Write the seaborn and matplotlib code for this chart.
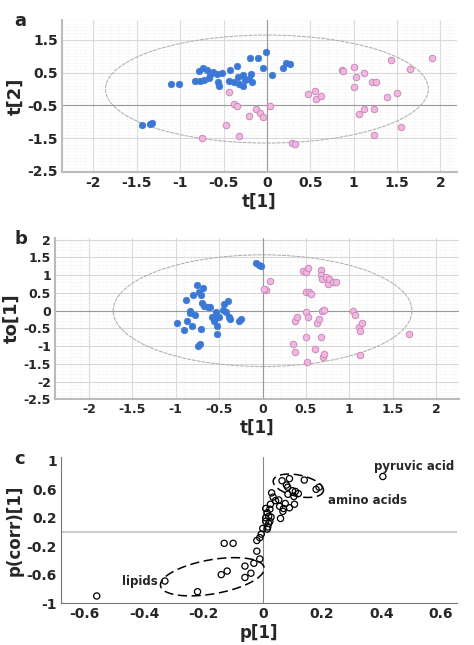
import numpy as np
import pandas as pd
import matplotlib
matplotlib.use("Agg")
import matplotlib.pyplot as plt
import seaborn as sns
from matplotlib.patches import Ellipse
from matplotlib.ticker import MultipleLocator

# panel a: scores t[1] / t[2]
a_blue_x = [-1.10, -1.01, -0.83, -0.78, -0.74, -0.69, -0.72, -0.67, -0.62, -0.58, -0.56, -0.55, -0.52, -0.42,
            -0.44, -0.38, -0.34, -0.33, -0.32, -0.27, -0.28, -0.20, -0.21, -0.17, -0.10, -0.04, -0.01, 0.06,
            0.19, 0.22, 0.27, -1.44, -1.35, -1.32, -0.77, -0.65, -0.25, -0.18]
a_blue_y = [0.17, 0.14, 0.26, 0.56, 0.63, 0.58, 0.28, 0.33, 0.53, 0.46, 0.22, 0.10, 0.50, 0.58,
            0.26, 0.22, 0.70, 0.36, 0.15, 0.43, 0.09, 0.94, 0.30, 0.22, 0.94, 0.63, 1.14, 0.43,
            0.63, 0.79, 0.76, -1.10, -1.07, -1.03, 0.26, 0.43, 0.28, 0.46]
a_pink_x = [-0.44, -0.38, -0.34, -0.75, -0.32, -0.47, -0.21, -0.12, -0.08, -0.05, 0.04, 0.29, 0.32, 0.47,
            0.56, 0.57, 0.62, 0.87, 0.88, 1.00, 1.03, 1.12, 1.00, 1.21, 1.26, 1.06, 1.12, 1.23, 1.23,
            1.38, 1.43, 1.50, 1.54, 1.65, 1.90]
a_pink_y = [-0.10, -0.47, -0.52, -1.48, -1.44, -1.10, -0.83, -0.62, -0.72, -0.85, -0.52, -1.66, -1.69, -0.15,
            -0.05, -0.29, -0.21, 0.58, 0.55, 0.66, 0.38, 0.50, 0.05, 0.22, 0.22, -0.77, -0.62, -0.60, -1.39,
            -0.23, 0.89, -0.11, -1.15, 0.60, 0.96]

# panel b: t[1] / to[1]
b_blue_x = [-0.98, -0.91, -0.88, -0.87, -0.84, -0.83, -0.81, -0.80, -0.78, -0.76, -0.73, -0.71, -0.70, -0.71,
            -0.69, -0.67, -0.63, -0.60, -0.58, -0.56, -0.54, -0.52, -0.55, -0.50, -0.53, -0.44, -0.45, -0.42,
            -0.40, -0.39, -0.38, -0.27, -0.25, -0.74, -0.72, -0.07, -0.04, -0.02]
b_blue_y = [-0.36, -0.54, 0.30, -0.28, 0.00, -0.08, -0.42, 0.45, -0.11, 0.71, 0.52, 0.45, 0.21, -0.52,
            0.64, 0.14, 0.11, 0.11, -0.17, -0.28, -0.05, -0.42, -0.24, -0.19, -0.66, 0.19, 0.02, -0.05,
            0.28, -0.17, -0.24, -0.28, -0.24, -0.99, -0.95, 1.34, 1.28, 1.25]
b_pink_x = [0.04, 0.08, 0.02, 0.37, 0.40, 0.35, 0.37, 0.46, 0.50, 0.52, 0.50, 0.54, 0.56, 0.50, 0.52, 0.50,
            0.51, 0.60, 0.63, 0.65, 0.67, 0.67, 0.68, 0.73, 0.75, 0.77, 0.81, 0.85, 0.68, 0.71, 0.67, 0.70,
            0.71, 1.04, 1.06, 1.11, 1.12, 1.15, 1.12, 1.69]
b_pink_y = [0.57, 0.85, 0.62, -0.28, -0.19, -0.94, -1.18, 1.13, 1.08, 1.21, 0.54, 0.52, 0.47, -0.05, -0.19,
            -0.74, -1.46, -1.08, -0.36, -0.24, 1.15, 1.01, 0.90, 0.94, 0.75, 0.90, 0.80, 0.82, 0.00, 0.02,
            -0.74, -1.32, -1.23, -0.02, -0.11, -0.45, -0.57, -0.36, -1.25, -0.66]

# panel c: loadings p[1] / p(corr)[1]
c_x = [-0.56, -0.33, -0.22, -0.14, -0.12, -0.13, -0.10, -0.06, -0.06, -0.04, -0.03, -0.01, -0.02, -0.02,
       -0.01, -0.005, 0.0, 0.01, 0.01, 0.015, 0.01, 0.02, 0.024, 0.017, 0.02, 0.028, 0.015, 0.024, 0.03,
       0.035, 0.026, 0.043, 0.054, 0.06, 0.057, 0.07, 0.068, 0.076, 0.085, 0.065, 0.08, 0.09, 0.084, 0.10,
       0.105, 0.107, 0.09, 0.11, 0.12, 0.14, 0.18, 0.19, 0.405]
c_y = [-0.90, -0.69, -0.84, -0.60, -0.55, -0.16, -0.16, -0.64, -0.48, -0.58, -0.44, -0.38, -0.27, -0.12,
       -0.08, -0.03, 0.05, 0.15, 0.20, 0.27, 0.33, 0.22, 0.15, 0.07, 0.12, 0.21, 0.04, 0.32, 0.55,
       0.49, 0.39, 0.44, 0.45, 0.19, 0.36, 0.33, 0.29, 0.40, 0.53, 0.72, 0.66, 0.75, 0.63, 0.58,
       0.50, 0.39, 0.34, 0.57, 0.54, 0.73, 0.60, 0.63, 0.78]

blue = "#3b78d6"
pink = "#f2b6e2"
pink_edge = "#c98ab8"

sns.set_style("white")
plt.rcParams['font.family'] = ['DejaVu Sans']
plt.rcParams['font.weight'] = 'bold'

fig = plt.figure(figsize=(4.74, 6.45), dpi=100)
ax_a = fig.add_axes([0.131, 0.733, 0.833, 0.236])
ax_b = fig.add_axes([0.116, 0.381, 0.852, 0.250])
ax_c = fig.add_axes([0.129, 0.065, 0.835, 0.226])


def score_panel(ax, bx, by, px, py, xlim, ylim, yticks, hline, ell_w, ell_h, ylabel):
    ax.set_xlim(*xlim)
    ax.set_ylim(*ylim)
    ax.xaxis.set_minor_locator(MultipleLocator(0.1))
    ax.yaxis.set_minor_locator(MultipleLocator(0.1))
    ax.grid(which='major', color='#d8d8d8', lw=0.8)
    ax.grid(which='minor', color='#f6f6f6', lw=0.4)
    ax.set_axisbelow(True)
    ax.axhline(hline, color='#999999', lw=0.8)
    ax.axvline(0, color='#999999', lw=0.8)
    ax.add_patch(Ellipse((0, 0), ell_w, ell_h, fill=False, ls=(0, (4, 1)), lw=0.7, color='#aaaaaa'))
    sns.scatterplot(x=bx, y=by, ax=ax, color=blue, edgecolor=blue, s=22, linewidth=0.5, zorder=3)
    sns.scatterplot(x=px, y=py, ax=ax, color=pink, edgecolor=pink_edge, s=22, linewidth=0.7, zorder=3)
    ax.set_xticks([-2, -1.5, -1, -0.5, 0, 0.5, 1, 1.5, 2])
    ax.set_xticklabels(['-2', '-1.5', '-1', '-0.5', '0', '0.5', '1', '1.5', '2'])
    ax.set_yticks(yticks)
    ax.set_yticklabels([('%g' % v) for v in yticks])
    ax.tick_params(labelsize=10, length=0, pad=3)
    for s in ['top', 'right']:
        ax.spines[s].set_visible(False)
    for s in ['left', 'bottom']:
        ax.spines[s].set_color('#bbbbbb')
        ax.spines[s].set_linewidth(1.5)
    ax.set_xlabel('t[1]', fontsize=12, fontweight='bold', labelpad=2)
    ax.set_ylabel(ylabel, fontsize=13, fontweight='bold', labelpad=2)


score_panel(ax_a, a_blue_x, a_blue_y, a_pink_x, a_pink_y, (-2.36, 2.19), (-2.54, 2.11),
            [1.5, 0.5, -0.5, -1.5, -2.5], -0.5, 3.72, 3.3, 't[2]')
score_panel(ax_b, b_blue_x, b_blue_y, b_pink_x, b_pink_y, (-2.39, 2.26), (-2.5, 2.05),
            [2, 1.5, 1, 0.5, 0, -0.5, -1, -1.5, -2, -2.5], 0, 3.44, 3.15, 'to[1]')
ax_b.tick_params(labelsize=9)

# panel c
ax_c.set_xlim(-0.68, 0.655)
ax_c.set_ylim(-1.0, 1.05)
ax_c.axhline(0, color='#cccccc', lw=1.5)
ax_c.axvline(0, color='#888888', lw=0.8)
sns.scatterplot(x=c_x, y=c_y, ax=ax_c, facecolor='none', edgecolor='black', s=20, linewidth=0.9, zorder=3)
ax_c.set_xticks([-0.6, -0.4, -0.2, 0, 0.2, 0.4, 0.6])
ax_c.set_xticklabels(['-0.6', '-0.4', '-0.2', '0', '0.2', '0.4', '0.6'])
ax_c.set_yticks([1, 0.6, 0.2, -0.2, -0.6, -1])
ax_c.set_yticklabels(['1', '0.6', '0.2', '-0.2', '-0.6', '-1'])
ax_c.tick_params(labelsize=10, length=0, pad=3)
for s in ['top', 'right']:
    ax_c.spines[s].set_visible(False)
for s in ['left', 'bottom']:
    ax_c.spines[s].set_color('#777777')
ax_c.set_xlabel('p[1]', fontsize=12, fontweight='bold', labelpad=2)
ax_c.set_ylabel('p(corr)[1]', fontsize=12, fontweight='bold', labelpad=2)

# tilted dashed ellipses, drawn in screen-proportional units
k = 0.24
phi = np.linspace(0, 2 * np.pi, 200)
for cx, cy, a, b, ang in [(0.12, 0.65, 0.36, 0.15, -12), (-0.17, -0.63, 0.74, 0.24, 10)]:
    t = np.deg2rad(ang)
    u = a * np.cos(phi) * np.cos(t) - b * np.sin(phi) * np.sin(t)
    v = a * np.cos(phi) * np.sin(t) + b * np.sin(phi) * np.cos(t)
    ax_c.plot(cx + u * k, cy + v, color='black', ls=(0, (6, 3)), lw=1.1)

ax_c.text(0.375, 0.83, 'pyruvic acid', fontsize=8.5, fontweight='bold', ha='left', va='bottom')
ax_c.text(0.22, 0.44, 'amino acids', fontsize=8.5, fontweight='bold', ha='left', va='center')
ax_c.text(-0.355, -0.70, 'lipids', fontsize=8.5, fontweight='bold', ha='right', va='center')

for ax, lab in [(ax_a, 'a'), (ax_b, 'b'), (ax_c, 'c')]:
    pos = ax.get_position()
    fig.text(0.03, pos.y1 + 0.012, lab, fontsize=13, fontweight='bold', ha='left', va='top')

fig.savefig('out.png', dpi=100)
